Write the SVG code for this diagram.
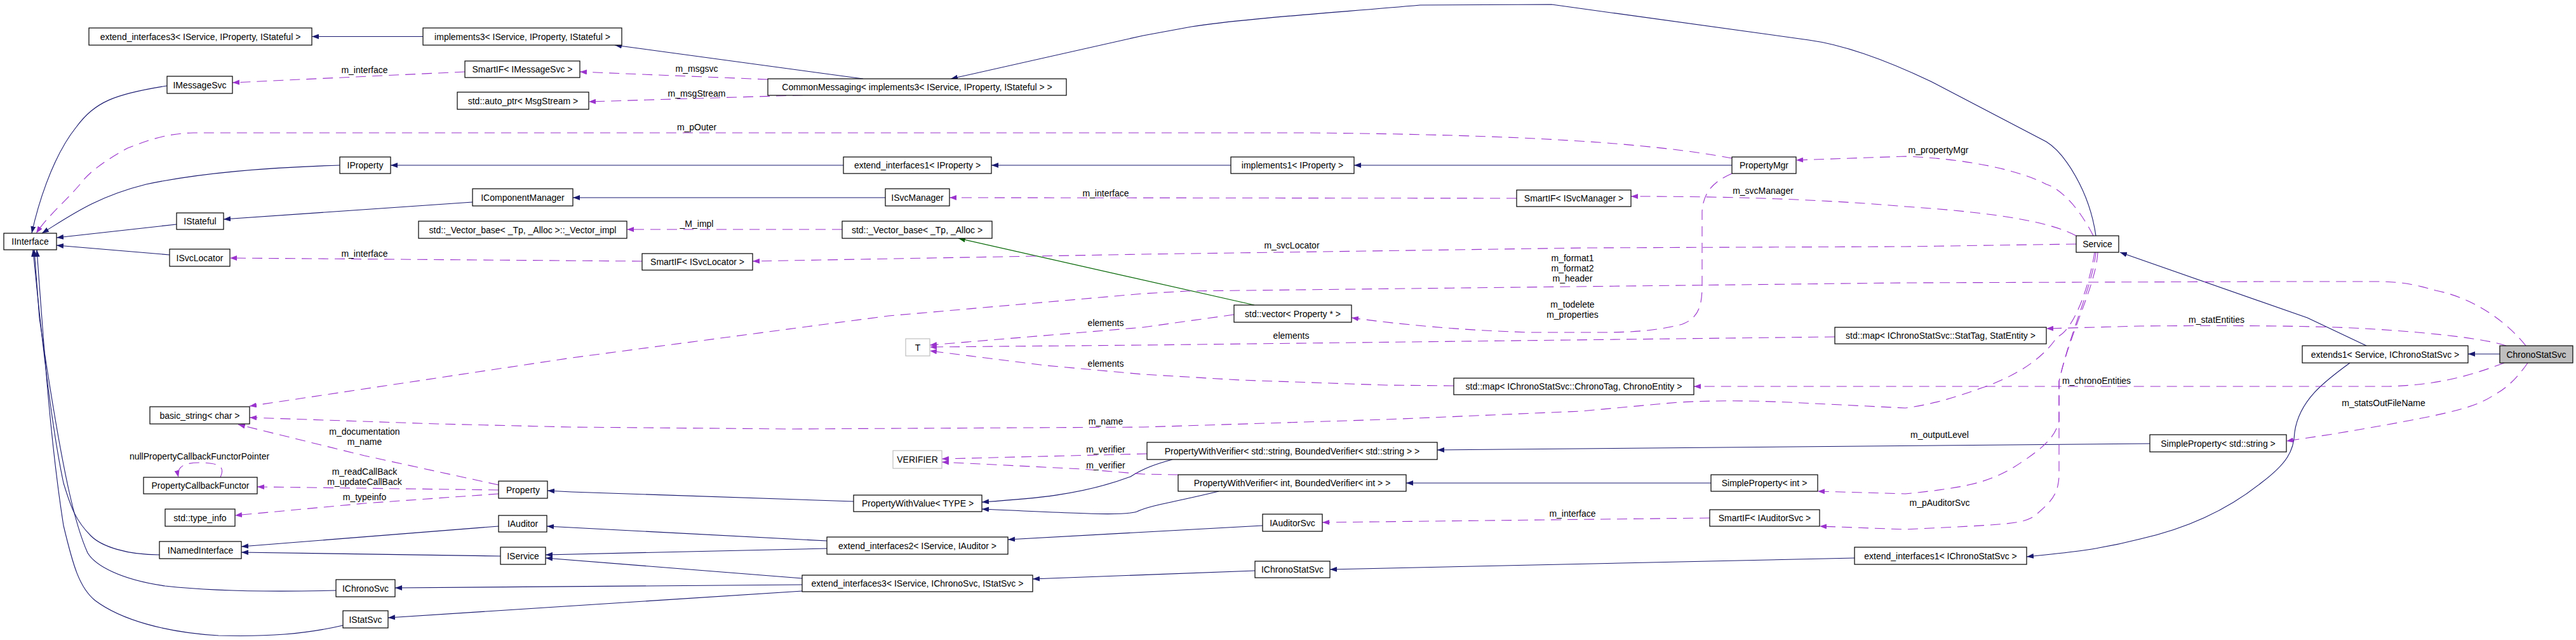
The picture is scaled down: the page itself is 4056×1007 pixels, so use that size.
<svg xmlns="http://www.w3.org/2000/svg" width="4056" height="1007" viewBox="0 0 4056 1007">
<style>
rect{fill:#fff;stroke:#000;stroke-width:1.2}
rect.g{stroke:#bfbfbf}
rect.cur{fill:#bfbfbf}
text{font-family:"Liberation Sans",Arial,sans-serif;font-size:14px;fill:#000;text-anchor:middle}
.i{fill:none;stroke:#191970;stroke-width:1.1;marker-end:url(#an)}
.u{fill:none;stroke:#9a32cd;stroke-width:1.1;stroke-dasharray:16,10;marker-end:url(#ap)}
.gr{fill:none;stroke:#006400;stroke-width:1.1;marker-end:url(#ag)}
</style>
<defs>
<marker id="an" markerUnits="userSpaceOnUse" markerWidth="12" markerHeight="8" refX="11" refY="4" orient="auto"><path d="M0,0L11,4L0,8z" fill="#191970"/></marker>
<marker id="ap" markerUnits="userSpaceOnUse" markerWidth="12" markerHeight="8" refX="11" refY="4" orient="auto"><path d="M0,0L11,4L0,8z" fill="#9a32cd"/></marker>
<marker id="ag" markerUnits="userSpaceOnUse" markerWidth="12" markerHeight="8" refX="11" refY="4" orient="auto"><path d="M0,0L11,4L0,8z" fill="#006400"/></marker>
</defs>
<rect width="4056" height="1007" style="fill:#fff;stroke:none"/>
<g id="connectors">
<path class="i" d="M666,57.5L491,57.5"/>
<path class="i" d="M1359,124L968,71"/>
<path class="i" d="M3300,371C3290,300 3250,240 3222,223L3040,128C2960,90 2900,70 2848,63L2443,7L2236,8C2100,20 1950,30 1876,42L1800,56L1497,124"/>
<path class="i" d="M263,135C180,148 150,160 120,200C80,250 58,330 50,367"/>
<path class="i" d="M535,260C400,264 300,275 230,290C150,310 110,340 66,367"/>
<path class="i" d="M278,353L89,374"/>
<path class="i" d="M267,401L89,386"/>
<path class="i" d="M1328,260L615,260"/>
<path class="i" d="M1938,260L1561,260"/>
<path class="i" d="M2727,260L2132,260"/>
<path class="i" d="M744,318L352,345"/>
<path class="i" d="M1394,311L902,311"/>
<path class="i" d="M251,873C200,873 160,860 143,843C120,820 112,800 100,760C85,690 70,580 52,393"/>
<path class="i" d="M529,929C450,931 350,932 260,922C190,912 150,890 138,870C120,830 100,760 62,500L54,393"/>
<path class="i" d="M540,984C480,998 420,1002 344,1000C260,995 190,975 150,945C125,925 115,890 100,827C80,700 70,560 58,393"/>
<path class="i" d="M1344,789L900,774L862,772"/>
<path class="i" d="M1846,723C1820,730 1800,737 1780,750C1700,780 1620,785 1546,790"/>
<path class="i" d="M1919,773C1850,790 1810,795 1790,805C1770,812 1700,808 1546,801"/>
<path class="i" d="M3385,698L2263,708"/>
<path class="i" d="M2694,760L2214,760"/>
<path class="i" d="M785,828L380,860"/>
<path class="i" d="M788,875L380,869"/>
<path class="i" d="M1302,851L861,828"/>
<path class="i" d="M1302,863L859,873"/>
<path class="i" d="M1263,910L859,878"/>
<path class="i" d="M1263,920L622,925"/>
<path class="i" d="M1263,930L611,972"/>
<path class="i" d="M1988,827L1587,849"/>
<path class="i" d="M1976,898L1626,911"/>
<path class="i" d="M2920,878L2094,896"/>
<path class="i" d="M3700,571C3660,600 3620,630 3613,680C3612,710 3600,730 3560,760C3510,800 3450,830 3370,848C3300,866 3250,870 3191,876"/>
<path class="i" d="M3726,544L3633,500L3338,397"/>
<path class="i" d="M3936,557L3886,557"/>
<path class="gr" d="M1975,480L1509,375"/>
<path class="u" d="M732,113L366,130"/>
<path class="u" d="M1209,125L913,113"/>
<path class="u" d="M1290,149L927,160"/>
<path class="u" d="M2727,249C2600,225 2400,212 2060,209L304,209C260,210 230,222 201,233C170,250 140,270 126,290C100,320 75,340 57,367"/>
<path class="u" d="M2388,312L1495,311"/>
<path class="u" d="M3269,371C3230,350 3150,335 3000,325C2850,312 2700,309 2568,309"/>
<path class="u" d="M3296,371C3270,320 3240,295 3222,290C3180,268 3100,250 3000,246L2828,252"/>
<path class="u" d="M3269,384L3000,388L2500,390L1800,400L1185,411"/>
<path class="u" d="M1011,411L362,406"/>
<path class="u" d="M1326,361L987,361"/>
<path class="u" d="M3977,544C3950,510 3900,470 3835,457C3800,447 3780,443 3740,443L3579,443L3000,445L1869,458L1800,462L1399,497L900,563L393,639"/>
<path class="u" d="M3946,544C3920,535 3850,525 3741,518C3650,512 3500,512 3370,513L3222,517"/>
<path class="u" d="M3943,571C3880,595 3830,606 3761,608L2667,608"/>
<path class="u" d="M3980,571C3960,600 3940,615 3929,620C3900,640 3870,650 3673,683L3600,694"/>
<path class="u" d="M3298,397C3290,450 3265,520 3239,530C3220,560 3180,590 3121,610C3080,625 3040,637 3000,642L2818,633C2750,630 2700,630 2642,633L2489,647L2183,660L1800,672L1244,675L900,672L689,667L393,657"/>
<path class="u" d="M3300,397C3295,450 3260,520 3242,600L3242,663C3235,690 3215,707 3168,737C3130,758 3101,767 3000,777L2862,773"/>
<path class="u" d="M3303,397C3300,450 3260,520 3242,600L3242,750C3240,780 3229,790 3202,813C3180,825 3162,825 3000,833L2865,828"/>
<path class="u" d="M785,763L574,717L375,668"/>
<path class="u" d="M785,771L405,766"/>
<path class="u" d="M785,777L574,792L370,811"/>
<path class="u" d="M347,751C352,740 355,728 313,728C285,728 278,738 281,751"/>
<path class="u" d="M2727,273C2700,285 2682,300 2680,333L2680,450C2680,480 2675,500 2649,510C2620,518 2580,523 2527,523L2412,523C2300,520 2200,510 2128,500"/>
<path class="u" d="M1943,495L1800,515L1464,543"/>
<path class="u" d="M2889,530L1800,543L1464,546"/>
<path class="u" d="M2289,607L2183,606L1953,598L1800,589L1646,575L1464,552"/>
<path class="u" d="M1806,714L1483,722"/>
<path class="u" d="M1855,747L1800,746L1704,738L1483,727"/>
<path class="u" d="M2692,815L2082,822"/>
</g>
<g id="labels">
<text x="574" y="115">m_interface</text>
<text x="1097" y="113">m_msgsvc</text>
<text x="1097" y="152">m_msgStream</text>
<text x="1097" y="205">m_pOuter</text>
<text x="1741" y="309">m_interface</text>
<text x="2776" y="305">m_svcManager</text>
<text x="3052" y="241">m_propertyMgr</text>
<text x="2034" y="391">m_svcLocator</text>
<text x="574" y="404">m_interface</text>
<text x="1097" y="357">_M_impl</text>
<text x="2476" y="411">m_format1</text>
<text x="2476" y="427">m_format2</text>
<text x="2476" y="443">m_header</text>
<text x="2476" y="484">m_todelete</text>
<text x="2476" y="500">m_properties</text>
<text x="3490" y="508">m_statEntities</text>
<text x="1741" y="513">elements</text>
<text x="2033" y="533">elements</text>
<text x="1741" y="577">elements</text>
<text x="3301" y="604">m_chronoEntities</text>
<text x="3753" y="639">m_statsOutFileName</text>
<text x="1741" y="668">m_name</text>
<text x="3054" y="689">m_outputLevel</text>
<text x="1741" y="712">m_verifier</text>
<text x="1741" y="737">m_verifier</text>
<text x="3054" y="796">m_pAuditorSvc</text>
<text x="2476" y="813">m_interface</text>
<text x="574" y="684">m_documentation</text>
<text x="574" y="700">m_name</text>
<text x="314" y="723">nullPropertyCallbackFunctorPointer</text>
<text x="574" y="747">m_readCallBack</text>
<text x="574" y="763">m_updateCallBack</text>
<text x="574" y="787">m_typeinfo</text>
</g>
<g id="n_ei3a"><rect x="140" y="44" width="351" height="27"/><text x="315.5" y="62.5">extend_interfaces3&lt; IService, IProperty, IStateful &gt;</text></g>
<g id="n_impl3"><rect x="666" y="44" width="313" height="27"/><text x="822.5" y="62.5">implements3&lt; IService, IProperty, IStateful &gt;</text></g>
<g id="n_smartMsg"><rect x="732" y="96" width="181" height="26"/><text x="822.5" y="114">SmartIF&lt; IMessageSvc &gt;</text></g>
<g id="n_IMessageSvc"><rect x="263" y="120" width="103" height="27"/><text x="314.5" y="138.5">IMessageSvc</text></g>
<g id="n_autoPtr"><rect x="720" y="145" width="207" height="27"/><text x="823.5" y="163.5">std::auto_ptr&lt; MsgStream &gt;</text></g>
<g id="n_CommonMessaging"><rect x="1209" y="124" width="470" height="26"/><text x="1444" y="142">CommonMessaging&lt; implements3&lt; IService, IProperty, IStateful &gt; &gt;</text></g>
<g id="n_IProperty"><rect x="535" y="247" width="80" height="26"/><text x="575" y="265">IProperty</text></g>
<g id="n_ei1p"><rect x="1328" y="247" width="233" height="26"/><text x="1444.5" y="265">extend_interfaces1&lt; IProperty &gt;</text></g>
<g id="n_impl1"><rect x="1938" y="247" width="194" height="26"/><text x="2035" y="265">implements1&lt; IProperty &gt;</text></g>
<g id="n_PropertyMgr"><rect x="2727" y="247" width="101" height="26"/><text x="2777.5" y="265">PropertyMgr</text></g>
<g id="n_IComponentManager"><rect x="744" y="297" width="158" height="27"/><text x="823" y="315.5">IComponentManager</text></g>
<g id="n_ISvcManager"><rect x="1394" y="297" width="101" height="27"/><text x="1444.5" y="315.5">ISvcManager</text></g>
<g id="n_smartSvcMgr"><rect x="2388" y="299" width="180" height="26"/><text x="2478" y="317">SmartIF&lt; ISvcManager &gt;</text></g>
<g id="n_IStateful"><rect x="278" y="335" width="74" height="26"/><text x="315" y="353">IStateful</text></g>
<g id="n_vecImpl"><rect x="659" y="348" width="328" height="27"/><text x="823" y="366.5">std::_Vector_base&lt; _Tp, _Alloc &gt;::_Vector_impl</text></g>
<g id="n_vecBase"><rect x="1326" y="348" width="236" height="27"/><text x="1444" y="366.5">std::_Vector_base&lt; _Tp, _Alloc &gt;</text></g>
<g id="n_IInterface"><rect x="6" y="367" width="83" height="26"/><text x="47.5" y="385">IInterface</text></g>
<g id="n_Service"><rect x="3269" y="371" width="67" height="26"/><text x="3302.5" y="389">Service</text></g>
<g id="n_ISvcLocator"><rect x="267" y="392" width="95" height="27"/><text x="314.5" y="410.5">ISvcLocator</text></g>
<g id="n_smartSvcLoc"><rect x="1011" y="399" width="174" height="26"/><text x="1098" y="417">SmartIF&lt; ISvcLocator &gt;</text></g>
<g id="n_vecProp"><rect x="1943" y="480" width="185" height="27"/><text x="2035.5" y="498.5">std::vector&lt; Property * &gt;</text></g>
<g id="n_mapStat"><rect x="2889" y="515" width="333" height="26"/><text x="3055.5" y="533">std::map&lt; IChronoStatSvc::StatTag, StatEntity &gt;</text></g>
<g id="n_T"><rect class="g" x="1426" y="533" width="38" height="27"/><text x="1445" y="551.5">T</text></g>
<g id="n_extends1"><rect x="3625" y="544" width="261" height="27"/><text x="3755.5" y="562.5">extends1&lt; Service, IChronoStatSvc &gt;</text></g>
<g id="n_ChronoStatSvc"><rect class="cur" x="3936" y="544" width="115" height="27"/><text x="3993.5" y="562.5">ChronoStatSvc</text></g>
<g id="n_mapChrono"><rect x="2289" y="595" width="378" height="26"/><text x="2478" y="613">std::map&lt; IChronoStatSvc::ChronoTag, ChronoEntity &gt;</text></g>
<g id="n_basicString"><rect x="236" y="640" width="157" height="27"/><text x="314.5" y="658.5">basic_string&lt; char &gt;</text></g>
<g id="n_PWVerStr"><rect x="1806" y="696" width="457" height="27"/><text x="2034.5" y="714.5">PropertyWithVerifier&lt; std::string, BoundedVerifier&lt; std::string &gt; &gt;</text></g>
<g id="n_SimplePropStr"><rect x="3385" y="684" width="215" height="27"/><text x="3492.5" y="702.5">SimpleProperty&lt; std::string &gt;</text></g>
<g id="n_VERIFIER"><rect class="g" x="1406" y="709" width="77" height="28"/><text x="1444.5" y="728">VERIFIER</text></g>
<g id="n_PropertyCallbackFunctor"><rect x="226" y="751" width="179" height="26"/><text x="315.5" y="769">PropertyCallbackFunctor</text></g>
<g id="n_Property"><rect x="785" y="757" width="77" height="27"/><text x="823.5" y="775.5">Property</text></g>
<g id="n_PWValue"><rect x="1344" y="779" width="202" height="26"/><text x="1445" y="797">PropertyWithValue&lt; TYPE &gt;</text></g>
<g id="n_PWVerInt"><rect x="1855" y="747" width="359" height="26"/><text x="2034.5" y="765">PropertyWithVerifier&lt; int, BoundedVerifier&lt; int &gt; &gt;</text></g>
<g id="n_SimplePropInt"><rect x="2694" y="747" width="168" height="26"/><text x="2778" y="765">SimpleProperty&lt; int &gt;</text></g>
<g id="n_type_info"><rect x="260" y="801" width="110" height="27"/><text x="315" y="819.5">std::type_info</text></g>
<g id="n_IAuditor"><rect x="785" y="811" width="76" height="26"/><text x="823" y="829">IAuditor</text></g>
<g id="n_SmartIFAud"><rect x="2692" y="802" width="173" height="26"/><text x="2778.5" y="820">SmartIF&lt; IAuditorSvc &gt;</text></g>
<g id="n_IAuditorSvc"><rect x="1988" y="809" width="94" height="27"/><text x="2035" y="827.5">IAuditorSvc</text></g>
<g id="n_ei2"><rect x="1302" y="845" width="285" height="27"/><text x="1444.5" y="863.5">extend_interfaces2&lt; IService, IAuditor &gt;</text></g>
<g id="n_INamedInterface"><rect x="251" y="852" width="129" height="27"/><text x="315.5" y="870.5">INamedInterface</text></g>
<g id="n_IService"><rect x="788" y="861" width="71" height="27"/><text x="823.5" y="879.5">IService</text></g>
<g id="n_ei1c"><rect x="2920" y="861" width="271" height="27"/><text x="3055.5" y="879.5">extend_interfaces1&lt; IChronoStatSvc &gt;</text></g>
<g id="n_IChronoStatSvc"><rect x="1976" y="883" width="118" height="26"/><text x="2035" y="901">IChronoStatSvc</text></g>
<g id="n_ei3b"><rect x="1263" y="905" width="363" height="26"/><text x="1444.5" y="923">extend_interfaces3&lt; IService, IChronoSvc, IStatSvc &gt;</text></g>
<g id="n_IChronoSvc"><rect x="529" y="912" width="93" height="27"/><text x="575.5" y="930.5">IChronoSvc</text></g>
<g id="n_IStatSvc"><rect x="540" y="961" width="71" height="27"/><text x="575.5" y="979.5">IStatSvc</text></g>
</svg>
